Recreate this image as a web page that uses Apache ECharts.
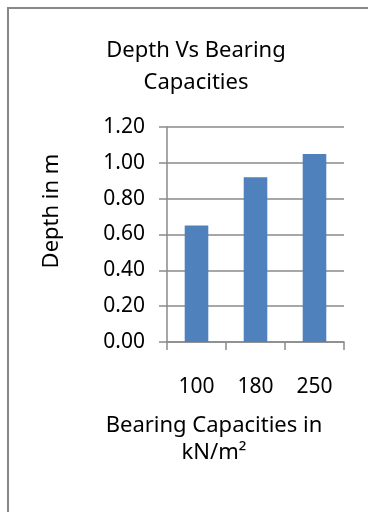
<!DOCTYPE html>
<html>
<head>
<meta charset="utf-8">
<script src="https://cdn.jsdelivr.net/npm/echarts@6/dist/echarts.min.js"></script>
<style>
  html, body { margin: 0; padding: 0; background: #fff; }
  #chart { width: 368px; height: 512px; }
</style>
</head>
<body>
<div id="chart"></div>
<script>
// Bearing capacity categories (kN/m²) and the matching footing depths (m)
const categories = ['100', '180', '250'];
const depths = [0.65, 0.92, 1.05];

const titleText = 'Depth Vs Bearing\nCapacities';
const xTitle = 'Bearing Capacities in\nkN/m\u00B2';
const yTitle = 'Depth in m';

const FONT = 'Noto Sans';
const GRAY = '#8a8a8a';

const chart = echarts.init(document.getElementById('chart'), null, { renderer: 'canvas' });

chart.setOption({
  animation: false,
  backgroundColor: '#ffffff',
  title: {
    text: titleText,
    left: 191,
    top: 30,
    textAlign: 'center',
    textStyle: {
      fontFamily: FONT,
      fontSize: 22,
      fontWeight: 'normal',
      color: '#000',
      lineHeight: 32
    }
  },
  grid: {
    left: 167,
    right: 24,
    top: 127,
    bottom: 170,
    containLabel: false
  },
  xAxis: {
    type: 'category',
    data: categories,
    boundaryGap: true,
    axisLine: { show: true, lineStyle: { color: GRAY, width: 1.5 } },
    axisTick: { show: true, length: 8, lineStyle: { color: GRAY, width: 1.5 } },
    axisLabel: {
      margin: 35,
      fontFamily: FONT,
      fontSize: 21,
      color: '#000'
    },
    splitLine: { show: false }
  },
  yAxis: {
    type: 'value',
    min: 0,
    max: 1.2,
    interval: 0.2,
    axisLine: { show: true, lineStyle: { color: GRAY, width: 1.5 } },
    axisTick: { show: true, length: 8, lineStyle: { color: GRAY, width: 1.5 } },
    axisLabel: {
      margin: 22,
      fontFamily: FONT,
      fontSize: 21,
      color: '#000',
      formatter: v => v.toFixed(2)
    },
    splitLine: { show: true, lineStyle: { color: GRAY, width: 1.5 } }
  },
  series: [{
    type: 'bar',
    data: depths,
    barWidth: '40%',
    itemStyle: { color: '#4f81bd' }
  }],
  graphic: [
    {
      type: 'rect',
      shape: { x: 8, y: 8, width: 500, height: 700 },
      style: { fill: 'none', stroke: '#878787', lineWidth: 2 },
      silent: true
    },
    {
      type: 'text',
      x: 214,
      y: 412,
      style: {
        text: xTitle,
        fontFamily: FONT,
        fontSize: 22,
        lineHeight: 27,
        fill: '#000',
        align: 'center',
        verticalAlign: 'top'
      }
    },
    {
      type: 'text',
      x: 52,
      y: 211,
      rotation: Math.PI / 2,
      style: {
        text: yTitle,
        fontFamily: FONT,
        fontSize: 22,
        fill: '#000',
        align: 'center',
        verticalAlign: 'middle'
      }
    }
  ]
});
</script>
</body>
</html>
